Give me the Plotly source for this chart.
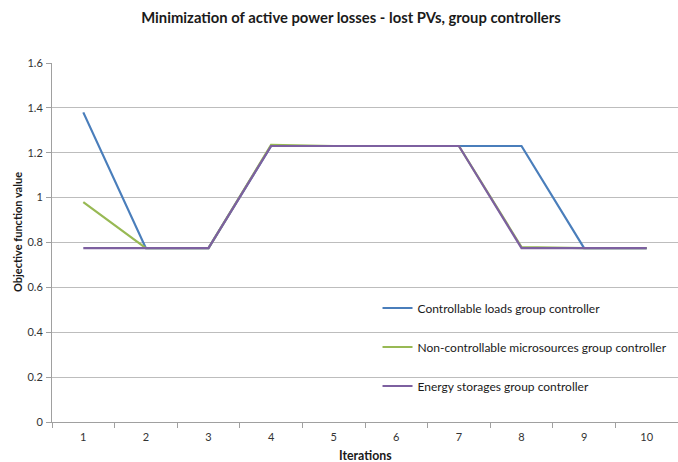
import plotly.graph_objects as go

iterations = ["1", "2", "3", "4", "5", "6", "7", "8", "9", "10"]
controllable_loads = [1.38, 0.775, 0.775, 1.23, 1.23, 1.23, 1.23, 1.23, 0.775, 0.775]
non_controllable = [0.98, 0.775, 0.775, 1.235, 1.23, 1.23, 1.23, 0.78, 0.775, 0.775]
energy_storages = [0.775, 0.775, 0.775, 1.23, 1.23, 1.23, 1.23, 0.775, 0.775, 0.775]

series_names = [
    "Controllable loads group controller",
    "Non-controllable microsources group controller",
    "Energy storages group controller",
]
series_values = [controllable_loads, non_controllable, energy_storages]
series_colors = ["#4A7EBB", "#98B954", "#7D60A0"]

font_family = "Lato, 'Open Sans', sans-serif"

fig = go.Figure()
for i, (name, vals, col) in enumerate(zip(series_names, series_values, series_colors)):
    fig.add_trace(go.Scatter(
        x=iterations, y=vals, mode="lines", name=name,
        line=dict(color=col, width=2.2),
        legendgroup=f"g{i}",
    ))

fig.update_layout(
    width=678, height=462,
    margin=dict(l=52, r=0, t=63, b=40),
    paper_bgcolor="white", plot_bgcolor="white",
    font=dict(family=font_family, size=11, color="#333333"),
    title=dict(
        text="<b>Minimization of active power losses - lost PVs, group controllers</b>",
        x=351 / 678, xanchor="center", y=1 - 18 / 462, yanchor="middle",
        font=dict(family=font_family, size=14.8, color="#1a1a1a"),
    ),
    showlegend=True,
    legend=dict(
        x=0.52, xanchor="left", y=0.358, yanchor="top",
        bgcolor="rgba(0,0,0,0)", borderwidth=0,
        font=dict(family=font_family, size=12, color="#1a1a1a"),
        traceorder="grouped", tracegroupgap=20,
    ),
    xaxis=dict(
        type="category", tickson="boundaries", ticks="outside", ticklen=5,
        tickcolor="#a0a0a0", showline=True, linecolor="#a0a0a0", linewidth=1,
        showgrid=False, range=[-0.5, 9.5], ticklabelstandoff=5,
        tickfont=dict(size=11, color="#333333"),
    ),
    yaxis=dict(
        range=[0, 1.6], dtick=0.2, tick0=0, ticks="outside", ticklen=5,
        tickcolor="#a0a0a0", showline=True, linecolor="#a0a0a0", linewidth=1,
        showgrid=True, gridcolor="#bdbdbd", gridwidth=1, zeroline=False,
        tickformat="~g", ticklabelstandoff=1,
        tickfont=dict(size=11, color="#333333"),
    ),
    annotations=[
        dict(text="<b>Objective function value</b>", xref="paper", yref="paper",
             x=-35 / 626, y=(422 - 232) / 359, xanchor="center", yanchor="middle",
             textangle=-90, showarrow=False,
             font=dict(family=font_family, size=11, color="#1a1a1a")),
        dict(text="<b>Iterations</b>", xref="paper", yref="paper",
             x=(365 - 52) / 626, y=-(455 - 422) / 359, xanchor="center", yanchor="middle",
             showarrow=False,
             font=dict(family=font_family, size=12.3, color="#1a1a1a")),
    ],
)

fig.write_html("out.html")
